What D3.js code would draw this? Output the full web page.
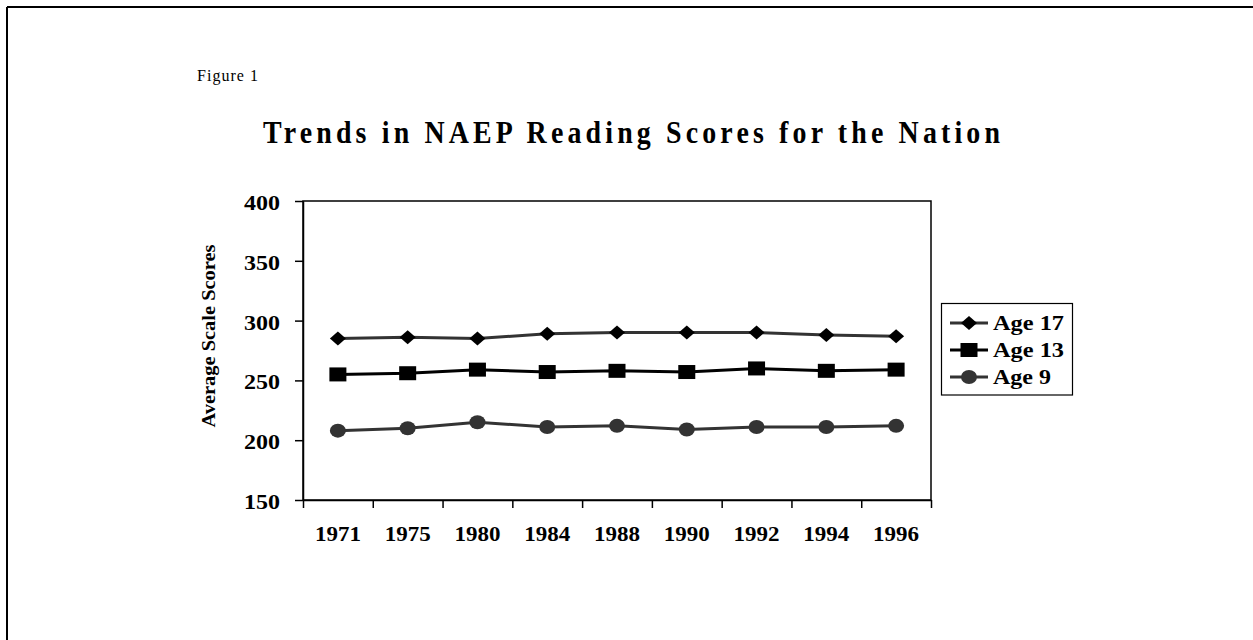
<!DOCTYPE html>
<html>
<head>
<meta charset="utf-8">
<script src="https://cdn.jsdelivr.net/npm/d3@7"></script>
<style>
  html, body { margin: 0; padding: 0; background: #fff; }
  svg { display: block; }
  text { font-family: "Liberation Serif", "Times New Roman", serif; fill: #000; }
</style>
</head>
<body>
<svg id="chart" width="1253" height="640"></svg>
<script>
const years = ["1971", "1975", "1980", "1984", "1988", "1990", "1992", "1994", "1996"];
const age17 = [285, 286, 285, 289, 290, 290, 290, 288, 287];
const age13 = [255, 256, 259, 257, 258, 257, 260, 258, 259];
const age9  = [208, 210, 215, 211, 212, 209, 211, 211, 212];
const yTicks = [150, 200, 250, 300, 350, 400];
const seriesNames = ["Age 17", "Age 13", "Age 9"];
const titleText = "Trends in NAEP Reading Scores for the Nation";
const yTitle = "Average Scale Scores";
const figLabel = "Figure 1";

const svg = d3.select("#chart");

// page frame (left & top edges)
svg.append("line").attr("x1", 7).attr("y1", 7).attr("x2", 1253).attr("y2", 7)
  .attr("stroke", "#000").attr("stroke-width", 2);
svg.append("line").attr("x1", 7).attr("y1", 7).attr("x2", 7).attr("y2", 640)
  .attr("stroke", "#000").attr("stroke-width", 2);

svg.append("text").attr("x", 197).attr("y", 81)
  .attr("font-size", 16).attr("textLength", 61).attr("lengthAdjust", "spacing")
  .text(figLabel);

svg.append("text").attr("transform", "translate(263,143) scale(0.9,1)")
  .attr("font-size", 31).attr("font-weight", "bold")
  .attr("textLength", 737 / 0.9).attr("lengthAdjust", "spacing")
  .text(titleText);

const L = 303, R = 931, T = 201, B = 500;
const x = d3.scaleBand().domain(years).range([L, R]).padding(0);
const xb = d3.scaleLinear().domain([0, years.length]).range([L, R]);
const y = d3.scaleLinear().domain([150, 400]).range([B, T]);

// plot frame
svg.append("rect").attr("x", L).attr("y", T).attr("width", R - L).attr("height", B - T)
  .attr("fill", "none").attr("stroke", "#000").attr("stroke-width", 1.5);

// y axis
const gy = svg.append("g").attr("transform", `translate(${L},0)`)
  .call(d3.axisLeft(y).tickValues(yTicks).tickSize(8).tickSizeOuter(0).tickPadding(15));
gy.select(".domain").attr("stroke", "#000").attr("stroke-width", 1.5);
gy.selectAll(".tick line").attr("stroke", "#000").attr("stroke-width", 1.5);
gy.selectAll(".tick text")
  .attr("font-family", "Liberation Serif, serif").attr("font-size", 20).attr("font-weight", "bold")
  .attr("fill", "#000").attr("dy", "0.42em")
  .attr("textLength", 36).attr("lengthAdjust", "spacingAndGlyphs");

// x axis boundary ticks
const gxb = svg.append("g").attr("transform", `translate(0,${B})`)
  .call(d3.axisBottom(xb).tickValues(d3.range(years.length + 1)).tickFormat("").tickSize(8).tickSizeOuter(0));
gxb.select(".domain").attr("stroke", "#000").attr("stroke-width", 1.5);
gxb.selectAll(".tick line").attr("stroke", "#000").attr("stroke-width", 1.5);

// x labels
const gx = svg.append("g").attr("transform", `translate(0,${B})`)
  .call(d3.axisBottom(x).tickSize(0).tickPadding(27));
gx.select(".domain").remove();
gx.selectAll(".tick text")
  .attr("font-family", "Liberation Serif, serif").attr("font-size", 20).attr("font-weight", "bold")
  .attr("fill", "#000").attr("dy", "0.71em")
  .attr("textLength", 46).attr("lengthAdjust", "spacingAndGlyphs");

// y title
svg.append("text")
  .attr("transform", "translate(215,336) rotate(-90)")
  .attr("text-anchor", "middle")
  .attr("font-size", 19).attr("font-weight", "bold")
  .attr("textLength", 183).attr("lengthAdjust", "spacingAndGlyphs")
  .text(yTitle);

const series = [
  { name: seriesNames[0], values: age17, line: "#333", mark: "#000", shape: "diamond" },
  { name: seriesNames[1], values: age13, line: "#000", mark: "#000", shape: "square" },
  { name: seriesNames[2], values: age9,  line: "#333", mark: "#333", shape: "circle" }
];

function drawMarker(g, shape, cx, cy, color) {
  if (shape === "diamond") {
    g.append("path")
      .attr("d", `M${cx - 8},${cy} L${cx},${cy - 7} L${cx + 8},${cy} L${cx},${cy + 7} Z`)
      .attr("fill", color);
  } else if (shape === "square") {
    g.append("rect").attr("x", cx - 8.5).attr("y", cy - 7).attr("width", 17).attr("height", 14)
      .attr("fill", color);
  } else {
    g.append("ellipse").attr("cx", cx).attr("cy", cy).attr("rx", 8).attr("ry", 7)
      .attr("fill", color);
  }
}

const line = d3.line().x((d, i) => x(years[i]) + x.bandwidth() / 2).y(d => y(d));

series.forEach(s => {
  svg.append("path").datum(s.values).attr("d", line)
    .attr("fill", "none").attr("stroke", s.line).attr("stroke-width", 3);
  const g = svg.append("g");
  s.values.forEach((v, i) => drawMarker(g, s.shape, x(years[i]) + x.bandwidth() / 2, y(v), s.mark));
});

// legend
const lg = svg.append("g");
lg.append("rect").attr("x", 941.5).attr("y", 303.5).attr("width", 131).attr("height", 91.5)
  .attr("fill", "#fff").attr("stroke", "#000").attr("stroke-width", 1.2);
const legY = [323, 350, 377];
series.forEach((s, i) => {
  const cy = legY[i];
  lg.append("line").attr("x1", 950).attr("x2", 988).attr("y1", cy).attr("y2", cy)
    .attr("stroke", s.line).attr("stroke-width", 3);
  drawMarker(lg, s.shape, 969, cy, s.mark);
  lg.append("text").attr("x", 993).attr("y", cy + 7)
    .attr("font-size", 21).attr("font-weight", "bold")
    .attr("textLength", s.name.length === 6 ? 71 : 58).attr("lengthAdjust", "spacingAndGlyphs")
    .text(s.name);
});
</script>
</body>
</html>
